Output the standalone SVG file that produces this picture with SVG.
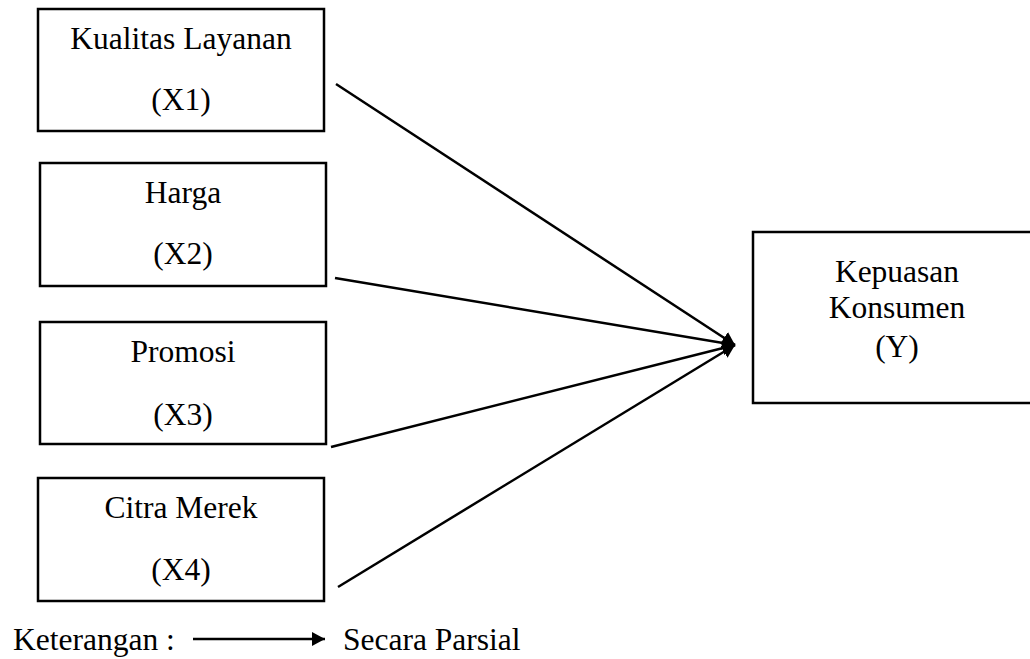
<svg xmlns="http://www.w3.org/2000/svg" width="1030" height="659" viewBox="0 0 1030 659">
<style>
.box{fill:#fff;stroke:#000;stroke-width:2.5}
.t{font-family:"Liberation Serif","Times New Roman",serif;font-size:31.5px;fill:#000;text-anchor:middle}
.lt{font-family:"Liberation Serif","Times New Roman",serif;font-size:31.5px;fill:#000}
.c{stroke:#000;stroke-width:2.5;fill:none}
</style>
<defs>
<marker id="ah" markerUnits="userSpaceOnUse" markerWidth="14" markerHeight="14" refX="13" refY="7" orient="auto">
<path d="M0,0 L13,7 L0,14 z" fill="#000"/>
</marker>
</defs>
<rect width="1030" height="659" fill="#fff"/>
<g id="x1">
<rect class="box" x="38" y="9" width="286" height="122"/>
<text class="t" x="181" y="49">Kualitas Layanan</text>
<text class="t" x="181" y="110">(X1)</text>
</g>
<g id="x2">
<rect class="box" x="40" y="163" width="286" height="123"/>
<text class="t" x="183" y="203">Harga</text>
<text class="t" x="183" y="264">(X2)</text>
</g>
<g id="x3">
<rect class="box" x="40" y="322" width="286" height="122"/>
<text class="t" x="183" y="362">Promosi</text>
<text class="t" x="183" y="425">(X3)</text>
</g>
<g id="x4">
<rect class="box" x="38" y="478" width="286" height="123"/>
<text class="t" x="181" y="518">Citra Merek</text>
<text class="t" x="181" y="580">(X4)</text>
</g>
<g id="y">
<rect class="box" x="753" y="232" width="290" height="171"/>
<text class="t" x="897" y="282">Kepuasan</text>
<text class="t" x="897" y="318">Konsumen</text>
<text class="t" x="897" y="357">(Y)</text>
</g>
<g id="connectors">
<line class="c" x1="336" y1="84" x2="735" y2="345" marker-end="url(#ah)"/>
<line class="c" x1="335" y1="278" x2="735" y2="345" marker-end="url(#ah)"/>
<line class="c" x1="331" y1="447" x2="735" y2="345" marker-end="url(#ah)"/>
<line class="c" x1="338" y1="587" x2="735" y2="345" marker-end="url(#ah)"/>
</g>
<g id="legend">
<text class="lt" x="13" y="650">Keterangan :</text>
<line class="c" x1="193" y1="639" x2="325" y2="639" stroke-width="2" marker-end="url(#ah)"/>
<text class="lt" x="343" y="650">Secara Parsial</text>
</g>
</svg>
